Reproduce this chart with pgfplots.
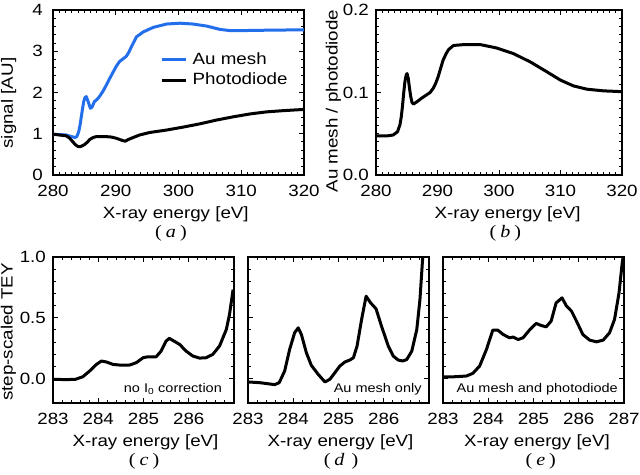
\documentclass[border=0pt]{standalone}
\usepackage{fontspec}
\setmainfont{Liberation Sans}[FakeStretch=1.15]
\newfontfamily\capfont{Liberation Serif}[FakeStretch=1.15]
\usepackage{pgfplots}
\pgfplotsset{compat=1.18}
\definecolor{meshblue}{RGB}{35,110,235}
\tikzset{note/.style={anchor=east, inner sep=0pt, font=\fontsize{12.6bp}{14bp}\selectfont}}
\pgfplotsset{
  myax/.style={
    scale only axis, anchor=south west,
    axis line style={line width=1.3bp},
    tick align=inside,
    major tick length=5bp, minor tick length=3bp,
    tick style={black, line width=1bp},
    /pgf/number format/assume math mode=true,
    xticklabel style={anchor=center, yshift=-15.5bp},
    yticklabel style={anchor=east, xshift=-1.5bp},
    xlabel style={anchor=center, yshift=-39bp},
    ylabel style={anchor=center},
    title style={anchor=center, yshift=-64bp, font=\capfont\fontsize{17.5bp}{20bp}\selectfont},
    every axis plot/.append style={line width=3bp, line join=round},
  },
  bot/.style={
    myax, width=181bp, height=146bp,
    xmin=283, xmax=287, xtick={283,284,285,286,287},
    minor x tick num=4,
    ymin=-0.2, ymax=1.0, ytick={0,0.5,1.0}, minor y tick num=4,
  },
}
\begin{document}
\fontsize{16.3bp}{19bp}\selectfont
\begin{tikzpicture}
\useasboundingbox (0,0) rectangle (640bp,475bp);
% (a)
\begin{axis}[myax, at={(53bp,300bp)}, width=251bp, height=165bp,
  xmin=280, xmax=320, xtick={280,290,...,320}, minor x tick num=9,
  ymin=0, ymax=4, ytick={0,1,2,3,4}, minor y tick num=4,
  yticklabel style={xshift=-3bp},
  xlabel={X-ray energy [eV]}, xlabel style={at={(axis description cs:0.489,0)}},
  ylabel={signal [AU]}, ylabel style={at={(axis description cs:-0.177,0.436)}},
  title={(\kern4bp\textit{a}\kern4bp)}, title style={at={(axis description cs:0.47,0)}},
  legend style={draw=none, fill=none, at={(axis description cs:0.426,0.76)}, anchor=north west,
    inner sep=0pt, column sep=3.2bp, row sep=0pt,
    nodes={inner sep=2.4bp, text height=12bp, text depth=3.5bp}},
  legend cell align=left,
  legend image code/.code={\draw[#1] (0bp,0bp) -- (24bp,0bp);},
]
\addplot[meshblue] coordinates {
(280,0.99) (281,0.98) (282.1,0.97) (283,0.93) (283.5,0.91) (283.8,0.93) (284.1,1.05)
(284.3,1.2) (284.5,1.4) (284.7,1.6) (284.9,1.78) (285.1,1.88) (285.3,1.9) (285.6,1.78)
(285.95,1.62) (286.2,1.64) (286.6,1.78) (287.0,1.83) (287.4,1.9) (288,2.04) (288.5,2.18)
(289,2.33) (289.6,2.5) (290.1,2.64) (290.6,2.75) (291.2,2.82) (291.7,2.88) (292.1,2.98)
(292.5,3.11) (293.3,3.35) (294.4,3.47) (296,3.58) (298.1,3.66) (300.2,3.68) (302.3,3.66)
(304.5,3.61) (306.6,3.53) (308.2,3.5) (309.8,3.5) (314,3.51) (320,3.52)};
\addlegendentry{Au mesh}
\addplot[black] coordinates {
(280,0.99) (281,0.97) (282.1,0.95) (282.6,0.9) (282.9,0.85) (283.3,0.78) (283.6,0.73)
(284,0.69) (284.4,0.69) (285.05,0.74) (285.5,0.8) (285.85,0.86) (286.4,0.91) (286.9,0.93)
(288.5,0.93) (289.3,0.92) (290.1,0.89) (291,0.84) (291.5,0.82) (292,0.86) (292.8,0.91)
(293.8,0.97) (295.4,1.03) (298.1,1.09) (300.7,1.16) (303.4,1.24) (306,1.33) (308.7,1.41)
(311.4,1.48) (314,1.53) (316.7,1.56) (320,1.59)};
\addlegendentry{Photodiode}
\end{axis}
% (b)
\begin{axis}[myax, at={(376bp,300bp)}, width=246bp, height=165bp,
  xmin=280, xmax=320, xtick={280,290,...,320}, minor x tick num=9,
  ymin=0, ymax=0.2, ytick={0,0.1,0.2}, minor y tick num=9,
  yticklabel style={/pgf/number format/.cd, fixed, fixed zerofill, precision=1},
  xlabel={X-ray energy [eV]}, xlabel style={at={(axis description cs:0.535,0)}},
  ylabel={Au mesh / photodiode}, ylabel style={at={(axis description cs:-0.173,0.448)}},
  title={(\kern4bp\textit{b}\kern4bp)}, title style={at={(axis description cs:0.526,0)}},
]
\addplot[black] coordinates {
(280,0.0473) (281.7,0.0473) (282.8,0.0485) (283.5,0.0525) (283.9,0.061) (284.1,0.07)
(284.3,0.083) (284.5,0.099) (284.7,0.113) (284.9,0.121) (285.05,0.123) (285.25,0.117)
(285.45,0.105) (285.65,0.095) (285.85,0.088) (286.1,0.086) (286.3,0.087) (286.7,0.089)
(287.4,0.093) (288.2,0.097) (288.8,0.100) (289.3,0.105) (289.7,0.111) (290.1,0.119)
(290.5,0.129) (290.9,0.139) (291.4,0.147) (291.8,0.152) (292.6,0.157) (294.2,0.158)
(297,0.158) (299.6,0.154) (302.4,0.147) (305.1,0.137) (307.8,0.125) (310,0.115)
(312.1,0.108) (314.3,0.104) (317,0.102) (320,0.101)};
\end{axis}
% (c)
\begin{axis}[bot, at={(53bp,72bp)},
  xticklabels={283,284,285,286,{}},
  yticklabel style={xshift=0bp, /pgf/number format/.cd, fixed, fixed zerofill, precision=1},
  xlabel={X-ray energy [eV]}, xlabel style={at={(axis description cs:0.511,0)}},
  ylabel={step-scaled TEY}, ylabel style={at={(axis description cs:-0.246,0.486)}},
  title={(\kern4bp\textit{c}\kern4bp)}, title style={at={(axis description cs:0.503,0)}},
]
\addplot[black] coordinates {
(283.0,-0.005) (283.3,-0.008) (283.5,-0.005) (283.66,0.016) (283.81,0.063) (283.96,0.117)
(284.07,0.145) (284.18,0.137) (284.33,0.117) (284.47,0.112) (284.69,0.112) (284.84,0.131)
(284.99,0.172) (285.1,0.18) (285.28,0.18) (285.39,0.227) (285.5,0.309) (285.57,0.331)
(285.65,0.314) (285.8,0.281) (285.94,0.227) (286.09,0.186) (286.24,0.169) (286.38,0.172)
(286.53,0.199) (286.68,0.268) (286.83,0.404) (286.9,0.527) (286.98,0.732)};
\node[note] at (rel axis cs:0.934,0.096) {no I\textsubscript{0} correction};
\end{axis}
% (d)
\begin{axis}[bot, at={(248bp,72bp)},
  xticklabels={283,284,285,286,{}}, yticklabels={},
  xlabel={X-ray energy [eV]}, xlabel style={at={(axis description cs:0.511,0)}},
  title={(\kern4bp\textit{d}\kern7bp)}, title style={at={(axis description cs:0.514,0)}},
]
\addplot[black] coordinates {
(283.0,-0.027) (283.26,-0.033) (283.59,-0.049) (283.69,-0.033) (283.81,0.063) (283.92,0.24)
(284.03,0.377) (284.11,0.418) (284.18,0.363) (284.29,0.213) (284.4,0.109) (284.55,0.036)
(284.7,-0.027) (284.81,-0.005) (284.92,0.049) (285.03,0.104) (285.14,0.137) (285.25,0.153)
(285.33,0.172) (285.41,0.268) (285.51,0.486) (285.61,0.678) (285.71,0.623) (285.83,0.574)
(285.95,0.432) (286.1,0.268) (286.21,0.186) (286.32,0.153) (286.42,0.145) (286.51,0.158)
(286.62,0.227) (286.73,0.404) (286.8,0.65) (286.86,0.992) (286.89,1.09)};
\node[note] at (rel axis cs:0.96,0.096) {Au mesh only};
\end{axis}
% (e)
\begin{axis}[bot, at={(443bp,72bp)},
  yticklabels={},
  xlabel={X-ray energy [eV]}, xlabel style={at={(axis description cs:0.519,0)}},
  title={(\kern4bp\textit{e}\kern4bp)}, title style={at={(axis description cs:0.54,0)}},
]
\addplot[black] coordinates {
(283.0,0.014) (283.29,0.016) (283.52,0.022) (283.66,0.044) (283.81,0.104) (283.96,0.24)
(284.1,0.399) (284.21,0.399) (284.33,0.363) (284.47,0.336) (284.55,0.342) (284.66,0.322)
(284.77,0.336) (284.92,0.404) (285.06,0.454) (285.17,0.437) (285.28,0.426) (285.39,0.473)
(285.5,0.623) (285.63,0.664) (285.73,0.596) (285.84,0.555) (285.95,0.473) (286.09,0.363)
(286.24,0.317) (286.39,0.303) (286.54,0.317) (286.68,0.377) (286.79,0.486) (286.89,0.705)
(286.96,0.951) (286.99,1.02)};
\node[note] at (rel axis cs:0.967,0.096) {Au mesh and photodiode};
\end{axis}
\end{tikzpicture}
\end{document}
